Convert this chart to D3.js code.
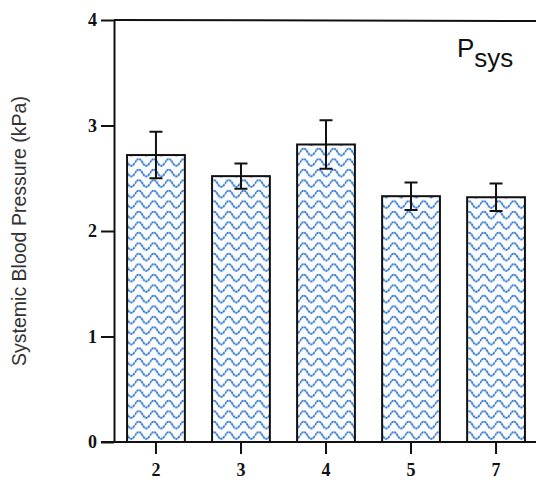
<!DOCTYPE html>
<html>
<head>
<meta charset="utf-8">
<script src="https://cdn.jsdelivr.net/npm/d3@7"></script>
<style>
  html, body { margin: 0; padding: 0; background: #fff; }
  svg { display: block; }
</style>
</head>
<body>
<svg id="chart" width="536" height="482"></svg>
<script>
// Systemic blood pressure by group
const categories = ["2", "3", "4", "5", "7"];
const meanValues = [2.72, 2.52, 2.82, 2.33, 2.32];
const errorValues = [0.22, 0.12, 0.23, 0.13, 0.13];
const yTickValues = [0, 1, 2, 3, 4];

const width = 536, height = 482;
const svg = d3.select("#chart");

const y = d3.scaleLinear().domain([0, 4]).range([442, 20]);
const x = d3.scaleBand().domain(categories).range([116, 536])
  .paddingInner(0.32).paddingOuter(0.13);

// wavy hatch fill
const defs = svg.append("defs");
const pat = defs.append("pattern")
  .attr("id", "wave")
  .attr("patternUnits", "userSpaceOnUse")
  .attr("width", 15).attr("height", 10.5);
pat.append("rect").attr("width", 15).attr("height", 10.5).attr("fill", "#fbfcfe");
const wave = "M0,5 C2.5,0.5 5,0.5 7.5,5 C10,9.5 12.5,9.5 15,5";
pat.append("path").attr("d", wave)
  .attr("fill", "none").attr("stroke", "#6fb4e6").attr("stroke-width", 1.7);
pat.append("path").attr("d", wave)
  .attr("fill", "none").attr("stroke", "#3b63c4").attr("stroke-width", 1.5)
  .attr("stroke-dasharray", "1.6,1.4");

const data = categories.map((c, i) => ({ c, v: meanValues[i], e: errorValues[i] }));

// bars
svg.append("g").selectAll("rect").data(data).join("rect")
  .attr("x", d => x(d.c))
  .attr("y", d => y(d.v))
  .attr("width", x.bandwidth())
  .attr("height", d => y(0) - y(d.v))
  .attr("fill", "url(#wave)")
  .attr("stroke", "#111")
  .attr("stroke-width", 2);

// error bars: stem with caps at both ends
const capW = 13;
const eb = svg.append("g").attr("stroke", "#111").attr("stroke-width", 2).attr("fill", "none");
eb.selectAll("path").data(data).join("path")
  .attr("d", d => {
    const cx = x(d.c) + x.bandwidth() / 2;
    const y1 = y(d.v + d.e), y0 = y(d.v - d.e);
    return `M${cx},${y1}V${y0}M${cx - capW / 2},${y1}H${cx + capW / 2}M${cx - capW / 2},${y0}H${cx + capW / 2}`;
  });

// axes
const yAxis = svg.append("g")
  .attr("transform", "translate(114,0)")
  .call(d3.axisLeft(y).tickValues(yTickValues).tickFormat(d3.format("d"))
    .tickSize(13).tickSizeOuter(0).tickPadding(4));
const xAxis = svg.append("g")
  .attr("transform", `translate(0,${y(0)})`)
  .call(d3.axisBottom(x).tickSize(12).tickSizeOuter(0).tickPadding(9));

[yAxis, xAxis].forEach(g => {
  g.selectAll("path, line").attr("stroke", "#111").attr("stroke-width", 2);
  g.selectAll("text")
    .attr("font-family", "'Liberation Serif', 'Times New Roman', serif")
    .attr("font-weight", "bold")
    .attr("font-size", 18)
    .attr("fill", "#111");
});
xAxis.select(".domain").attr("d", `M101,0H536`);

// top frame line
svg.append("line")
  .attr("x1", 114).attr("x2", 536)
  .attr("y1", y(4)).attr("y2", y(4) + 1)
  .attr("stroke", "#111").attr("stroke-width", 2);

// panel title
const title = svg.append("text")
  .attr("x", 457).attr("y", 57)
  .attr("font-family", "'Liberation Sans', Arial, sans-serif")
  .attr("font-size", 26).attr("fill", "#111");
title.append("tspan").text("P");
title.append("tspan").attr("dy", 10).text("sys");

// y axis label
svg.append("text")
  .attr("transform", "translate(26,231) rotate(-90)")
  .attr("text-anchor", "middle")
  .attr("font-family", "'Liberation Sans', Arial, sans-serif")
  .attr("font-size", 19.5).attr("fill", "#333")
  .text("Systemic Blood Pressure (kPa)");
</script>
</body>
</html>
